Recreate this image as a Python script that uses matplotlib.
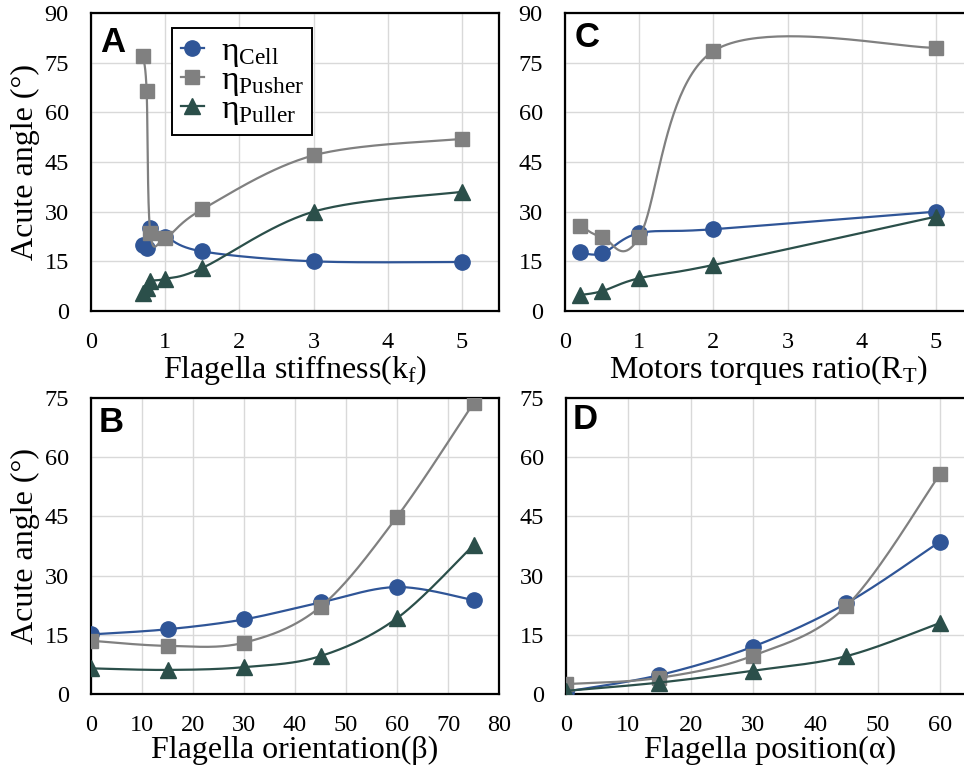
import numpy as np
import matplotlib
matplotlib.use("Agg")
import matplotlib.pyplot as plt
from matplotlib.lines import Line2D

plt.rcParams["font.family"] = ["Liberation Serif", "DejaVu Serif"]
plt.rcParams["mathtext.fontset"] = "custom"
plt.rcParams["mathtext.rm"] = "Liberation Serif"
plt.rcParams["mathtext.it"] = "Liberation Serif:italic"

# A: flagella stiffness
stiff_x = [0.7, 0.75, 0.8, 1, 1.5, 3, 5]
stiff_cell = [20, 19, 25, 22.5, 18, 15, 14.8]
stiff_pusher = [77, 66.5, 23.5, 22, 30.7, 47, 52]
stiff_puller = [5.5, 7, 9, 9.7, 13, 30, 36]

# C: motors torques ratio
ratio_x = [0.2, 0.5, 1, 2, 5]
ratio_cell = [17.7, 17.4, 23.5, 24.7, 30]
ratio_pusher = [25.8, 22.4, 22.3, 78.5, 79.5]
ratio_puller = [4.8, 6, 9.9, 13.9, 28.5]

# B: flagella orientation
orient_x = [0, 15, 30, 45, 60, 75]
orient_cell = [15.1, 16.4, 18.9, 23.2, 27.1, 23.8]
orient_pusher = [13.5, 12.2, 13, 22.1, 44.9, 73.7]
orient_puller = [6.5, 6.1, 6.8, 9.6, 19.2, 37.7]

# D: flagella position
pos_x = [0, 15, 30, 45, 60]
pos_cell = [0.6, 4.8, 12, 23, 38.6]
pos_pusher = [2.5, 4.1, 9.7, 22.3, 55.7]
pos_puller = [0.8, 2.9, 5.9, 9.6, 18]

series_names = ["Cell", "Pusher", "Puller"]
colors = ["#2F5597", "#808080", "#2B4F4A"]
markers = ["o", "s", "^"]
msizes = [11, 10.5, 12]


def smooth(x, y, n=50):
    # excel-like smoothed line (catmull-rom as cubic bezier)
    p = np.column_stack([x, y]).astype(float)
    ext = np.vstack([p[0], p, p[-1]])
    t = np.linspace(0, 1, n)[:, None]
    out = []
    for i in range(len(p) - 1):
        p0, p1, p2, p3 = ext[i], ext[i + 1], ext[i + 2], ext[i + 3]
        c1 = p1 + (p2 - p0) / 6
        c2 = p2 - (p3 - p1) / 6
        seg = (1 - t) ** 3 * p1 + 3 * (1 - t) ** 2 * t * c1 + 3 * (1 - t) * t ** 2 * c2 + t ** 3 * p2
        out.append(seg if i == 0 else seg[1:])
    out = np.vstack(out)
    return out[:, 0], out[:, 1]


W, H = 964, 775
fig = plt.figure(figsize=(W / 100, H / 100), dpi=100)


def make_axes(l, t, r, b):
    return fig.add_axes([l / W, 1 - b / H, (r - l) / W, (b - t) / H])


def setup(ax, x, ys, xlim, xticks, ylim, xlabel, letter, lx, ly, ylabel=True):
    for y, c, m, ms in zip(ys, colors, markers, msizes):
        sx, sy = smooth(x, y)
        ax.plot(sx, sy, color=c, lw=1.6, solid_capstyle="round", zorder=3)
        ax.plot(x, y, linestyle="none", marker=m, color=c, ms=ms, zorder=3)
    ax.set_xlim(*xlim)
    ax.set_ylim(*ylim)
    ax.set_xticks(xticks)
    ax.set_yticks(np.arange(ylim[0], ylim[1] + 1, 15))
    ax.grid(True, color="#D9D9D9", lw=1)
    ax.set_axisbelow(True)
    ax.tick_params(length=0, labelsize=17.5, pad=15)
    ax.tick_params(axis="y", pad=16)
    for s in ax.spines.values():
        s.set_linewidth(1.6)
        s.set_color("black")
    ax.set_xlabel(xlabel, fontsize=23, labelpad=0)
    if ylabel:
        ax.set_ylabel("Acute angle (°)", fontsize=23, labelpad=3)
    ax.text(lx, ly, letter, transform=ax.transAxes, fontsize=25, fontweight="bold",
            family="Liberation Sans", ha="left", va="baseline")


axA = make_axes(91, 13, 499, 311)
setup(axA, stiff_x, [stiff_cell, stiff_pusher, stiff_puller], (0, 5.5), range(0, 6),
      (0, 90), r"Flagella stiffness(k$_{\mathrm{f}}$)", "A", 0.022, 0.869)

axC = make_axes(565, 13, 973, 311)
setup(axC, ratio_x, [ratio_cell, ratio_pusher, ratio_puller], (0, 5.5), range(0, 6),
      (0, 90), r"Motors torques ratio(R$_{\mathrm{T}}$)", "C", 0.024, 0.886, ylabel=False)

axB = make_axes(91, 398, 499, 694)
setup(axB, orient_x, [orient_cell, orient_pusher, orient_puller], (0, 80), range(0, 81, 10),
      (0, 75), "Flagella orientation(β)", "B", 0.018, 0.885)

axD = make_axes(566, 398, 974, 694)
setup(axD, pos_x, [pos_cell, pos_pusher, pos_puller], (0, 65.46), range(0, 61, 10),
      (0, 75), "Flagella position(α)", "D", 0.016, 0.895, ylabel=False)

handles = [Line2D([], [], color=c, marker=m, ms=ms, lw=1.6) for c, m, ms in zip(colors, markers, msizes)]
labels = ["η$_{\\mathrm{%s}}$" % n for n in series_names]
leg = axA.legend(handles, labels, loc="upper left", bbox_to_anchor=(0.199, 0.95),
                 borderaxespad=0, fontsize=24, handlelength=0.7, handletextpad=0.5,
                 labelspacing=-0.1, borderpad=0.25, fancybox=False, framealpha=1)
leg.get_frame().set_edgecolor("black")
leg.get_frame().set_linewidth(1.4)

fig.savefig("out.png", dpi=100)
